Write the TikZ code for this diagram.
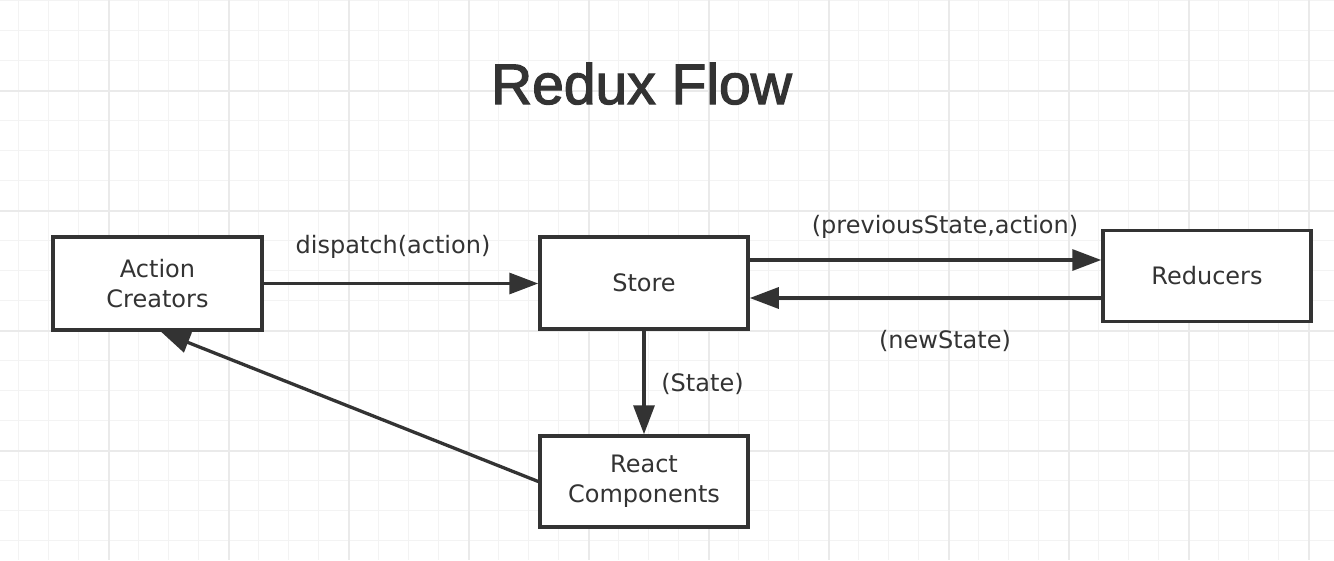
\documentclass[tikz,border=0pt]{standalone}
\usepackage{fontspec}
\setmainfont{DejaVu Sans}
\newfontfamily\titlefont{Liberation Sans}[FakeBold=2.2]
\usetikzlibrary{arrows.meta,calc}
\definecolor{ink}{HTML}{333333}
\definecolor{gridminor}{HTML}{F3F3F3}
\definecolor{gridmajor}{HTML}{EAEAEA}
\tikzset{
  box/.style={draw=ink, line width=3.5pt, fill=white, minimum width=208pt, minimum height=92pt, inner sep=0pt, align=center, text=ink, font=\fontsize{24}{30}\selectfont},
  arr/.style={draw=ink, line width=3.3pt, -{Triangle[length=29pt,width=21pt]}},
  lbl/.style={anchor=base, text=ink, inner sep=0pt, font=\fontsize{24}{30}\selectfont},
}
\begin{document}
\begin{tikzpicture}[x=1pt,y=-1pt]
\useasboundingbox (0,0) rectangle (1334,560);
\fill[white] (0,0) rectangle (1334,560);
% grid
\foreach \i in {0,...,43}{
  \draw[gridminor, line width=1.5pt] ({18.3+30*\i},0) -- ({18.3+30*\i},560);
}
\foreach \j in {0,...,18}{
  \draw[gridminor, line width=1.5pt] (0,{0.7+30*\j}) -- (1334,{0.7+30*\j});
}
\foreach \i in {0,...,10}{
  \draw[gridmajor, line width=1.6pt] ({109+120*\i},0) -- ({109+120*\i},560);
}
\foreach \j in {0,...,3}{
  \draw[gridmajor, line width=1.6pt] (0,{90.7+120*\j}) -- (1334,{90.7+120*\j});
}
% title
\node[anchor=base, text=ink, inner sep=0pt, font=\titlefont\fontsize{57}{60}\selectfont] (title) at (641.5,104) {Redux Flow};
% boxes
\node[box, minimum width=209pt, minimum height=93pt] (ac) at (157.5,283.5) {Action\\Creators};
\node[box] (store) at (644,283) {Store};
\node[box, minimum height=91pt] (red) at (1207,276) {Reducers};
\node[box, minimum height=91pt] (react) at (644,481.5) {React\\Components};
% connectors
\draw[arr] (ac.east) -- (ac.east -| store.west);
\coordinate (s1) at ([yshift=23pt]store.east);
\draw[arr] (s1) -- (s1 -| red.west);
\coordinate (s2) at ([yshift=-15pt]store.east);
\draw[arr] (s2 -| red.west) -- (s2);
\draw[arr] (store.south) -- (react.north);
\draw[arr] (react.west) -- ([xshift=3.5pt]ac.south);
% labels
\node[lbl] (l1) at (393,253) {dispatch(action)};
\node[lbl] (l2) at (945,233) {(previousState,action)};
\node[lbl] (l3) at (945,348) {(newState)};
\node[lbl] (l4) at (702.5,391) {(State)};
\end{tikzpicture}
\end{document}
